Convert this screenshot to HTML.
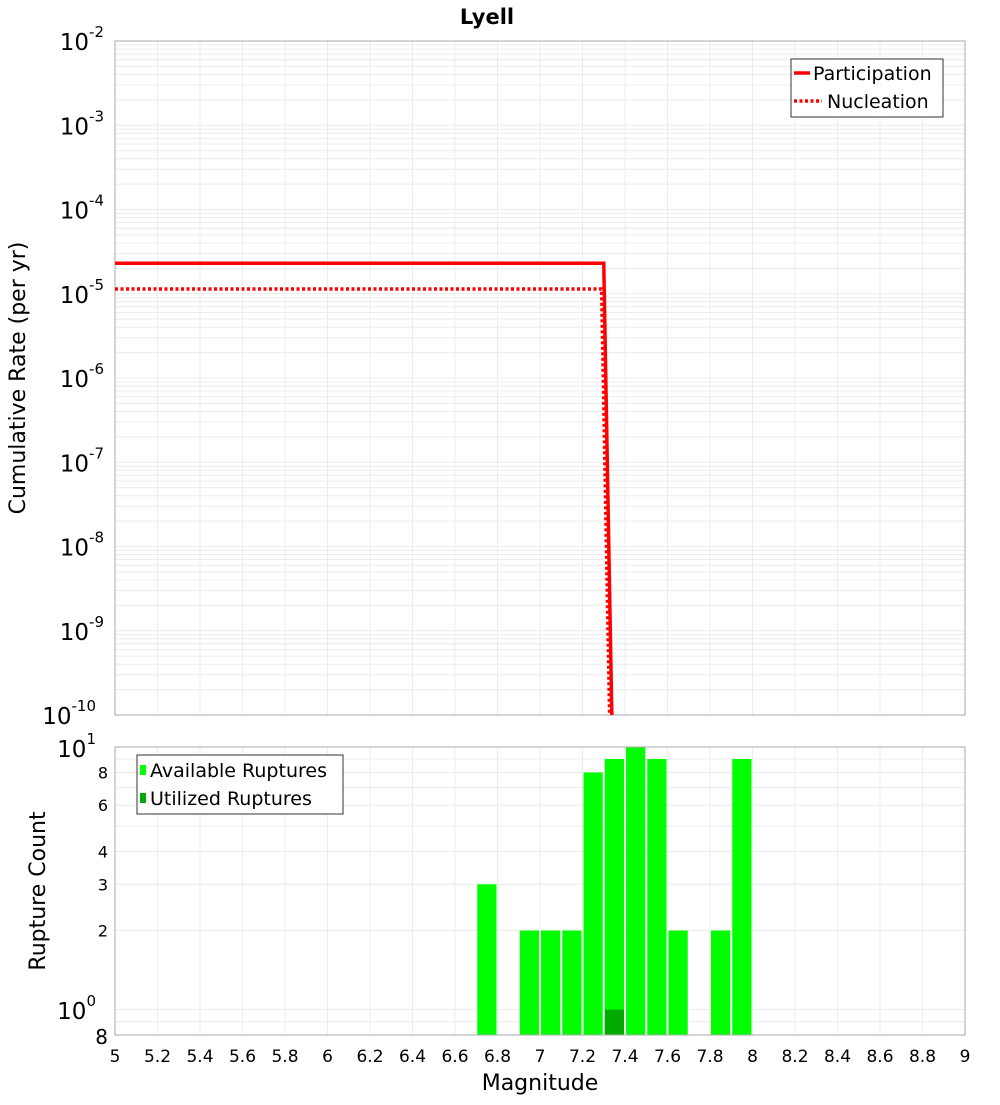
<!DOCTYPE html>
<html><head><meta charset="utf-8"><style>
body{margin:0;background:#fff}
svg text{font-family:"DejaVu Sans","Liberation Sans",sans-serif;fill:#000}
</style></head><body>
<svg id="c" width="1000" height="1100">
<rect width="1000" height="1100" fill="#fff"/>
<text x="487" y="24" text-anchor="middle" font-size="21" font-weight="bold">Lyell</text>
<g id="top"></g>
<g id="bot"></g>
<text transform="translate(25,378) rotate(-90)" text-anchor="middle" font-size="22">Cumulative Rate (per yr)</text>
<text transform="translate(45,891) rotate(-90)" text-anchor="middle" font-size="22">Rupture Count</text>
<text x="540" y="1090" text-anchor="middle" font-size="22">Magnitude</text>
<g>
<rect x="791" y="59" width="152" height="58" fill="#fff" stroke="#333"/>
<line x1="794" y1="73" x2="810" y2="73" stroke="#f00" stroke-width="3.5"/>
<text x="813" y="80" font-size="19">Participation</text>
<line x1="794" y1="101" x2="822" y2="101" stroke="#f00" stroke-width="3.5" stroke-dasharray="3,2.5"/>
<text x="827" y="108" font-size="19">Nucleation</text>
</g>
<g>
<rect x="137" y="755" width="206" height="59" fill="#fff" stroke="#333"/>
<rect x="140" y="765" width="6" height="10" fill="#00ff00"/>
<text x="150" y="777" font-size="19">Available Ruptures</text>
<rect x="140" y="793" width="6" height="10" fill="#00aa00"/>
<text x="150" y="805" font-size="19">Utilized Ruptures</text>
</g>
</svg>
<script>
const partMag=[5,7.3,7.345];
const partRate=[2.3e-5,2.3e-5,1e-11];
const nuclMag=[5,7.29,7.335];
const nuclRate=[1.14e-5,1.14e-5,1e-11];
const binCenters=[6.75,6.95,7.05,7.15,7.25,7.35,7.45,7.55,7.65,7.85,7.95];
const availCounts=[3,2,2,2,8,9,10,9,2,2,9];
const usedCounts=[0,0,0,0,0,1,0,0,0,0,0];
const xTicks=[5,5.2,5.4,5.6,5.8,6,6.2,6.4,6.6,6.8,7,7.2,7.4,7.6,7.8,8,8.2,8.4,8.6,8.8,9];
const rateExp=[-2,-3,-4,-5,-6,-7,-8,-9,-10];
const countTicks=[0.8,2,3,4,6,8];

const NS="http://www.w3.org/2000/svg";
const L=115,R=965,T1=41,B1=715,T2=747,B2=1035;
const xs=m=>L+(m-5)/4*(R-L);
const y1=v=>T1+(-2-Math.log10(v))/8*(B1-T1);
const lo=Math.log10(0.8);
const y2=v=>T2+(1-Math.log10(v))/(1-lo)*(B2-T2);
function mk(p,tag,a){const e=document.createElementNS(NS,tag);for(const k in a)e.setAttribute(k,a[k]);p.appendChild(e);return e;}
const gTop=document.getElementById('top'),gBot=document.getElementById('bot');
for(let e=-10;e<-2;e++)for(let k=1;k<10;k++){const y=y1(k*Math.pow(10,e));
 const g=mk(gTop,'line',{x1:L,x2:R,y1:y,y2:y,stroke:'#ececec','stroke-width':1});
 
 }
xTicks.forEach(t=>{const x=xs(t);
 const g=mk(gTop,'line',{x1:x,x2:x,y1:T1,y2:B1,stroke:'#ececec'});
 
 
 const g2=mk(gBot,'line',{x1:x,x2:x,y1:T2,y2:B2,stroke:'#ececec'});
 
 
 const tx=mk(gBot,'text',{x:x,y:1062,'text-anchor':'middle','font-size':17});tx.textContent=String(t);
 
 });
rateExp.forEach(e=>{const y=y1(Math.pow(10,e));
 const t=mk(gTop,'text',{x:104,y:y+9,'text-anchor':'end','font-size':23});
 
 
 t.textContent='10';const s=mk(t,'tspan',{dy:-13,'font-size':15});s.textContent=String(e);
 if(e===-10){t.setAttribute('x',96);}});
mk(gTop,'rect',{x:L,y:T1,width:R-L,height:B1-T1,fill:'none',stroke:'#aaa'});
const cp=mk(gTop,'clipPath',{id:'cp'});mk(cp,'rect',{x:L,y:T1,width:R-L,height:B1-T1});
function line(ms,vs,dash,name){const pts=ms.map((m,i)=>xs(m)+','+y1(vs[i])).join(' ');
 const p=mk(gTop,'polyline',{points:pts,fill:'none',stroke:'#f00','stroke-width':3.5,'clip-path':'url(#cp)'});
 if(dash)p.setAttribute('stroke-dasharray','3,2.5');
 
 }
line(nuclMag,nuclRate,true,'nucleation-line');
line(partMag,partRate,false,'participation-line');
[0.8,0.9,1,2,3,4,5,6,7,8,9,10].forEach(v=>{const y=y2(v);
 const g=mk(gBot,'line',{x1:L,x2:R,y1:y,y2:y,stroke:'#ececec'});
 
 });
countTicks.forEach(v=>{const t=mk(gBot,'text',{x:108,y:y2(v)+(v===0.8?9:6),'text-anchor':'end','font-size':v===0.8?20:16});
 t.textContent=v===0.8?'8':String(v);
 
 });
[[1,1009,23,'0'],[10,747,23,'1']].forEach(([v,y,fs,ex])=>{const t=mk(gBot,'text',{x:96,y:y+10,'text-anchor':'end','font-size':fs});
 t.textContent='10';const s=mk(t,'tspan',{dy:-13,'font-size':15});s.textContent=ex;
 
 });
const bw=0.1*(R-L)/4;
binCenters.forEach((c,i)=>{const x=xs(c)-bw/2+1;
 const b=mk(gBot,'rect',{x:x,y:y2(availCounts[i]),width:bw-2,height:B2-y2(availCounts[i]),fill:'#00ff00'});
 
 
 if(usedCounts[i]>0){const u=mk(gBot,'rect',{x:x,y:y2(usedCounts[i]),width:bw-2,height:B2-y2(usedCounts[i]),fill:'#00aa00'});
  
  }});
mk(gBot,'rect',{x:L,y:T2,width:R-L,height:B2-T2,fill:'none',stroke:'#aaa'});
</script>
</body></html>
